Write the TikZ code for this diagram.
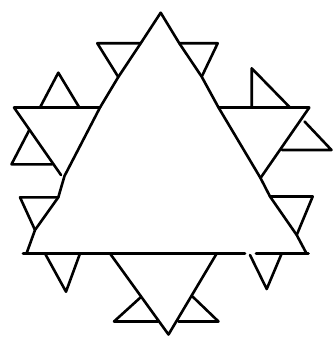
\documentclass[tikz,border=0pt]{standalone}
\begin{document}
\begin{tikzpicture}[x=1pt,y=-1pt,
  ln/.style={line width=2.6pt,line cap=round,line join=round,black}]
\fill[white] (0,0) rectangle (333,337);
\useasboundingbox (0,0) rectangle (333,337);
% big triangle
\coordinate (A) at (160.7,12.7);
\coordinate (BL) at (26.5,253.5);
\coordinate (BR) at (306.5,253.5);
\draw[ln] (A) -- (140.7,43.3) -- (118.3,77) -- (100,107.5) -- (64.5,176) -- (58.3,197.3) -- (35,230) -- (BL);
\draw[ln] (A) -- (179.3,43.3) -- (201.7,76.7) -- (218.5,107.5) -- (260.5,178) -- (270,196.5) -- (296.7,235) -- (BR);
\draw[ln] (23,253.5) -- (245,253.5);
\draw[ln] (256,253.5) -- (308.5,253.5);
% top small triangles
\draw[ln] (118.3,77) -- (97.3,43.3) -- (140.7,43.3);
\draw[ln] (179.3,43.3) -- (217.7,43.3) -- (201.7,76.7);
% left middle
\draw[ln] (100,107.5) -- (14,107.5) -- (61,175);
\draw[ln] (40,107.5) -- (58.3,72.7) -- (79.3,107.5);
\draw[ln] (29.3,130) -- (11.5,164.3) -- (52.3,164.3);
% left lower
\draw[ln] (58.3,197.3) -- (20,197.3) -- (35,230);
% bottom left small
\draw[ln] (45,253.5) -- (66,291.7) -- (80,253.5);
% bottom big
\draw[ln] (110,253.5) -- (168.5,334.5) -- (216.7,253.5);
\draw[ln] (141,297) -- (114,321.5) -- (158,321.5);
\draw[ln] (192.5,296.5) -- (218.5,321.5) -- (178.5,321.5);
% bottom right small
\draw[ln] (250,255) -- (266.7,289) -- (281.7,253.5);
% right middle
\draw[ln] (218.5,107.5) -- (309.3,107.5) -- (260.5,178);
\draw[ln] (251.7,107.5) -- (251.7,68.3) -- (290,107.5);
\draw[ln] (304.5,121.5) -- (331.5,150) -- (282,150);
% right lower
\draw[ln] (270,196.5) -- (312.7,196.5) -- (296.7,235);
\end{tikzpicture}
\end{document}
